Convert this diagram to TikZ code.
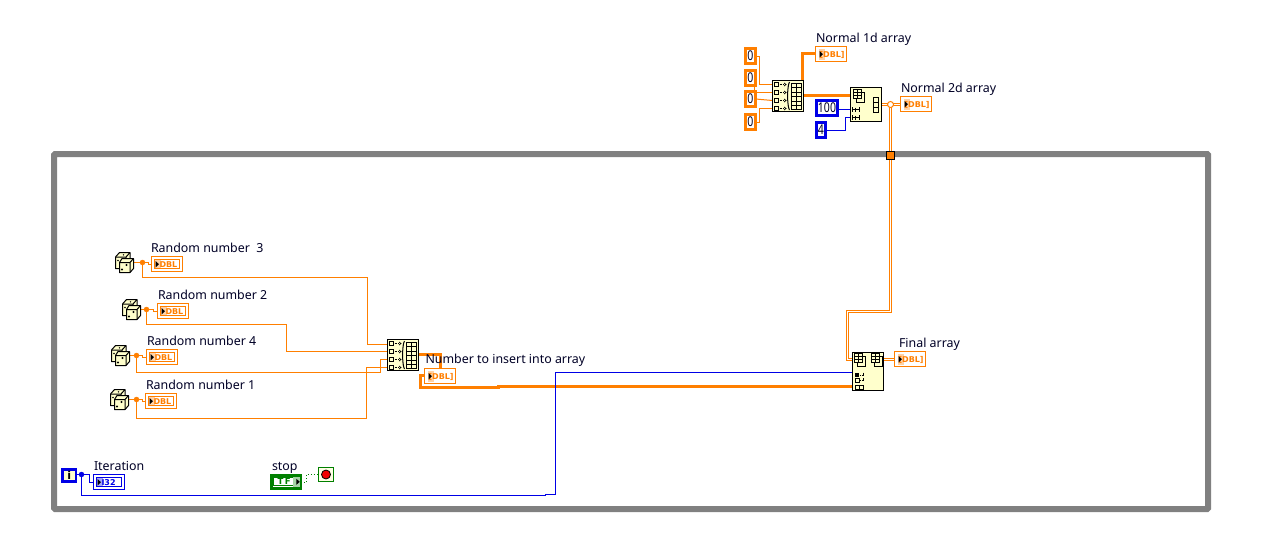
\documentclass[tikz,border=0pt]{standalone}
\usepackage{fontspec}
\usepackage{graphicx}
\setmainfont{Noto Sans}
\newfontfamily\indfont{DejaVu Sans}
\usetikzlibrary{backgrounds}
\pgfdeclarelayer{wires}
\pgfsetlayers{background,wires,main}
\definecolor{lvor}{HTML}{FF7F00}
\definecolor{lvbl}{HTML}{0000E6}
\definecolor{lvgr}{HTML}{008000}
\definecolor{lvcream}{HTML}{FFFFCC}
\definecolor{lvgray}{HTML}{808080}
\newcommand{\nar}[1]{\scalebox{0.78}[1]{#1}}
\tikzset{
  every node/.style={outer sep=0pt},
  wire/.style={draw=lvor,line width=1pt},
  thickwire/.style={draw=lvor,line width=3pt},
  dblwire/.style={draw=lvor,line width=3pt,postaction={draw=white,line width=1pt}},
  bluewire/.style={draw=lvbl,line width=1pt},
  dotwire/.style={draw=lvgr,line width=1pt,dotted},
  junc/.style={circle,fill=lvor,inner sep=0pt,minimum size=5.5pt},
  bjunc/.style={circle,fill=lvbl,inner sep=0pt,minimum size=5.5pt},
  ojunc/.style={circle,draw=lvor,fill=white,line width=1pt,inner sep=0pt,minimum size=6pt},
  lab/.style={anchor=base west,inner sep=0pt,font=\fontsize{12.4}{14}\selectfont,text=black!85!blue},
  block/.style={draw=black,fill=lvcream,line width=1pt,inner sep=0pt,anchor=north west},
  const/.style={fill=white,line width=2.5pt,inner sep=0pt,anchor=north west,font=\fontsize{13.5}{14}\selectfont,text=black!85!blue},
  ind/.style={draw,line width=1pt,fill=white,inner sep=0pt,anchor=north west},
}
\newcommand{\cells}[5]{%
  \foreach \i in {1,...,#5}{\draw[black,line width=1pt] (#1,{#2+(\i-1)*#4}) rectangle ++(#3,#4);}}
\newcommand{\buildarr}[1]{%
  \begin{scope}[shift={(#1.north west)},black,line width=1pt]
    \foreach \y in {4,12,20,28}{
      \draw (2,\y-2) rectangle ++(4,4);
      \draw[densely dotted,line width=.7pt] (7,\y) -- (13,\y);
      \draw[line width=.7pt] (11.5,\y-1.5) -- (13.5,\y) -- (11.5,\y+1.5);
    }
    \draw (17,1.5) .. controls (14.5,5) and (14.5,26) .. (17,29.5);
    \draw (19,2.5) rectangle (29,29);
    \draw (24,2.5) -- (24,29);
    \foreach \y in {7,11.5,16,20.5,25}{\draw (19,\y) -- (29,\y);}
  \end{scope}}
\newcommand{\arricon}[2]{%
  \begin{scope}[shift={(#1,#2)},black,line width=1pt]
    \draw[fill=lvcream] (3,3) rectangle (11,13);
    \draw[fill=lvcream] (0,0) rectangle (8,9);
    \draw (4,0) -- (4,9) (0,3) -- (8,3) (0,6) -- (8,6);
  \end{scope}}
\newcommand{\arrind}[1]{%
  \begin{scope}[shift={(#1.north west)}]
    \fill[lvor!35] (3,2.5) rectangle (9,13);
    \node[inner sep=0pt,text=lvor,anchor=base west] at (4,11.2) {\indfont\bfseries\fontsize{8}{9}\selectfont [DBL]};
    \fill[black] (4,4.5) -- (7.5,7.7) -- (4,11) -- cycle;
  \end{scope}}
\newcommand{\scalind}[3]{%
  \draw[#2,line width=1pt] ([shift={(3,3)}]#1.north west) rectangle ([shift={(-3,-3)}]#1.south east);
  \begin{scope}[shift={(#1.north west)}]
    \fill[#2!35] (3.5,3.5) rectangle (9,11.5);
    \node[inner sep=0pt,text=#2,anchor=base west] at (8,11) {\indfont\bfseries\fontsize{8}{9}\selectfont #3};
    \fill[black] (4,4.5) -- (7.5,7.7) -- (4,11) -- cycle;
  \end{scope}}
\newcommand{\dicebody}[1]{%
  \begin{scope}[shift={(#1.north west)},draw=black,line width=1pt,line join=round,fill=lvcream]
    \filldraw (0.5,5) -- (4.5,0.5) -- (15,0.5) -- (15,9) -- (11,16.5) -- (0.5,16.5) -- cycle;
    \draw (0.5,5) -- (11,5) -- (15,0.5) (11,5) -- (11,16.5);
    \fill[black] (3,8.5) circle (.9) (8.5,2.8) circle (.8);
    \filldraw (4.5,10.5) -- (7,6.5) -- (18.5,6.5) -- (18.5,16.5) -- (15,20.5) -- (4.5,20.5) -- cycle;
    \draw (4.5,10.5) -- (15,10.5) -- (18.5,6.5) (15,10.5) -- (15,20.5);
    \fill[black] (7,17.5) circle (1.2) (11.5,13) circle (1.2);
  \end{scope}}
\begin{document}
\begin{tikzpicture}[x=1pt,y=-1pt]
\useasboundingbox (0,0) rectangle (1267,536);
\begin{pgfonlayer}{background}
\fill[white] (0,0) rectangle (1267,536);
\end{pgfonlayer}
% loop frame
\node[draw=lvgray,line width=6pt,rounded corners=1pt,minimum width=1154pt,minimum height=355pt,inner sep=0pt,anchor=north west] (loop) at (54,154) {};
% constants
\node[const,draw=lvor,minimum width=10pt,minimum height=15pt] (c1) at (745.5,48.5) {\nar{0}};
\node[const,draw=lvor,minimum width=10pt,minimum height=15pt] (c2) at (745.5,70.5) {\nar{0}};
\node[const,draw=lvor,minimum width=10pt,minimum height=15pt] (c3) at (745.5,91.5) {\nar{0}};
\node[const,draw=lvor,minimum width=10pt,minimum height=15pt] (c4) at (745.5,114.5) {\nar{0}};
\node[const,draw=lvbl,minimum width=21pt,minimum height=15pt] (k100) at (816.5,100.5) {\nar{100}};
\node[const,draw=lvbl,minimum width=9pt,minimum height=15pt] (k4) at (816.5,122.5) {\nar{4}};
% top blocks
\node[block,minimum width=31pt,minimum height=31pt] (ba1) at (772.5,80.5) {};
\buildarr{ba1}
\node[block,minimum width=31pt,minimum height=34pt] (rs) at (850.5,87.5) {};
\arricon{853.5}{89.5}
\cells{873.5}{97.5}{5}{5}{3}
\draw[black,line width=1pt] (852,109.5) -- (860,109.5) (852.5,107) -- (852.5,112) (855,107.5) -- (855,111.5) (859.5,107) -- (859.5,112);
\draw[black,line width=1pt] (852,117.5) -- (860,117.5) (852.5,115) -- (852.5,120) (855,115.5) -- (855,119.5) (859.5,115) -- (859.5,120);
% indicators top
\node[ind,draw=lvor,minimum width=31pt,minimum height=15pt] (n1d) at (815.5,46.5) {};
\arrind{n1d}
\node[ind,draw=lvor,minimum width=31pt,minimum height=15pt] (n2d) at (900.5,96.5) {};
\arrind{n2d}
\node[lab] (tn1d) at (816,42) {Normal 1d array};
\node[lab] (tn2d) at (901,92) {Normal 2d array};
% lower left dice + indicators
\node[inner sep=0pt,minimum width=19pt,minimum height=21pt,anchor=north west] (d3) at (115,252) {};
\dicebody{d3}
\node[inner sep=0pt,minimum width=19pt,minimum height=21pt,anchor=north west] (d2) at (122,299) {};
\dicebody{d2}
\node[inner sep=0pt,minimum width=19pt,minimum height=21pt,anchor=north west] (d4) at (111,345) {};
\dicebody{d4}
\node[inner sep=0pt,minimum width=19pt,minimum height=21pt,anchor=north west] (d1) at (110,389) {};
\dicebody{d1}
\node[ind,draw=lvor,minimum width=31pt,minimum height=15pt] (i3) at (151.5,256.5) {};
\scalind{i3}{lvor}{DBL}
\node[ind,draw=lvor,minimum width=31pt,minimum height=15pt] (i2) at (157.5,303.5) {};
\scalind{i2}{lvor}{DBL}
\node[ind,draw=lvor,minimum width=31pt,minimum height=15pt] (i4) at (146.5,349.5) {};
\scalind{i4}{lvor}{DBL}
\node[ind,draw=lvor,minimum width=31pt,minimum height=15pt] (i1) at (145.5,393.5) {};
\scalind{i1}{lvor}{DBL}
\node[lab] (t3) at (151,252) {Random number\ \ 3};
\node[lab] (t2) at (158,299) {Random number 2};
\node[lab] (t4) at (147,345) {Random number 4};
\node[lab] (t1) at (146,389) {Random number 1};
% lower build array
\node[block,minimum width=31pt,minimum height=31pt] (ba2) at (387.5,339.5) {};
\buildarr{ba2}
\node[ind,draw=lvor,minimum width=31pt,minimum height=15pt] (inum) at (424.5,368.5) {};
\arrind{inum}
% final block
\node[block,minimum width=31pt,minimum height=38pt] (fin) at (852.5,352.5) {};
\arricon{854.5}{353.5}
\arricon{871.5}{353.5}
\fill[black] (855,373) rectangle (859,377);
\draw[black,line width=.7pt,densely dotted] (860,375) -- (864,375);
\draw[black,line width=.7pt] (863.5,372.5) -- (863.5,375);
\draw[black,line width=1pt] (855.5,378.5) rectangle (859.5,382.5);
\draw[black,line width=.7pt,densely dotted] (860,380.5) -- (864,380.5);
\draw[black,line width=.7pt] (863.5,378) -- (863.5,380.5);
\draw[black,line width=1pt] (855.5,385.5) rectangle (863.5,389.5) (859.5,385.5) -- (859.5,389.5);
\node[ind,draw=lvor,minimum width=31pt,minimum height=15pt] (ifin) at (894.5,351.5) {};
\arrind{ifin}
\node[lab] (tfin) at (899,347) {Final array};
\node[lab] (tnum) at (425.5,363) {Number to insert into array};
% iteration
\node[const,draw=lvbl,fill=lvcream,line width=2.5pt,minimum width=13.5pt,minimum height=12pt,font=\indfont\fontsize{11}{11}\selectfont\bfseries,text=black] (iter) at (62.5,469.3) {i};
\node[ind,draw=lvbl,minimum width=31pt,minimum height=15pt] (ii) at (93.5,474.5) {};
\scalind{ii}{lvbl}{I32}
\node[lab] (tit) at (94,470) {Iteration};
% stop
\node[ind,draw=lvgr,line width=2.6pt,minimum width=29.5pt,minimum height=13pt] (is) at (271.3,475.3) {};
\draw[lvgr,line width=1pt] ([shift={(2.5,2.5)}]is.north west) rectangle ([shift={(-2,-2.5)}]is.south east);
\fill[lvgr!35] ([shift={(-8,1.5)}]is.north east) rectangle ([shift={(-1,-1.5)}]is.south east);
\fill[black] ([shift={(-4.5,3.5)}]is.north east) -- ([shift={(-1,0)}]is.east) -- ([shift={(-4.5,-3.5)}]is.south east) -- cycle;
\node[inner sep=0pt,text=lvgr] at ([xshift=-2]is.center) {\indfont\bfseries\fontsize{8.5}{9}\selectfont T\,F};
\node[lab] (tst) at (272,470) {stop};
\node[draw=lvgr,line width=1pt,fill=lvcream!50,minimum width=15pt,minimum height=14pt,inner sep=0pt,anchor=north west] (cond) at (318.5,467.5) {};
\fill[red!95!black,draw=black,line width=.8pt] (cond.center) circle (4.5);
% pin coordinates
\coordinate (p1) at (772.5,84.5); \coordinate (p2) at (772.5,92.5); \coordinate (p3) at (772.5,100.5); \coordinate (p4) at (772.5,108.5);
\coordinate (b1) at (387.5,344.5); \coordinate (b2) at (387.5,351.5); \coordinate (b3) at (387.5,359.5); \coordinate (b4) at (387.5,367.5);
\coordinate (ba1o) at (803.5,95.5); \coordinate (rsin) at (850.5,95.5);
\coordinate (rsn) at (850.5,109.5); \coordinate (rsm) at (850.5,117.5);
\coordinate (ba1t) at (802.5,80.5); \coordinate (n1w) at (815.5,53.5);
\coordinate (rso) at (881.5,104.5); \coordinate (n2w) at (900.5,104.5);
\coordinate (fa) at (852.5,359.5); \coordinate (fo) at (883.5,359.5); \coordinate (fw) at (894.5,359.5);
\coordinate (fb) at (852.5,372.5); \coordinate (fc) at (852.5,386.5);
\coordinate (ba2o) at (418.5,354.5);
% junctions and tunnel
\node[junc] (j3) at (142.5,262.5) {};
\node[junc] (j2) at (146.5,309.5) {};
\node[junc] (j4) at (136.5,355.5) {};
\node[junc] (j1) at (136.5,399.5) {};
\node[bjunc] (ji) at (81.5,474.5) {};
\node[draw=black,fill=lvor,line width=1pt,minimum size=8.5pt,inner sep=0pt] (tun) at (890.5,155.5) {};
\begin{pgfonlayer}{wires}
\draw[wire] (c1.east) -- (759.5,56) -- (759.5,84.5) -- (p1);
\draw[wire] (754.5,70) -- (754.5,92.5) -- (p2);
\draw[wire] (c3.east) -- (p3);
\draw[wire] (c4.east) -- (759.5,122) -- (759.5,108.5) -- (p4);
\draw[thickwire] (ba1t) -- (802.5,53.5) -- (n1w);
\draw[thickwire] (ba1o) -- (rsin);
\draw[bluewire] (k100.east |- rsn) -- (rsn);
\draw[bluewire] (k4.east |- 0,130.5) -- (845.5,130.5) -- (845.5,117.5) -- (rsm);
\draw[dblwire] (rso) -- (n2w);
\draw[dblwire] (890.5,104.5) -- (890.5,311.5) -- (847.5,311.5) -- (847.5,359.5) -- (fa);
\draw[dblwire] (fo) -- (fw);
\draw[wire] (d3.east |- j3) -- (j3) -- (148.5,262.5) -- (148.5,264.5) -- (i3.west |- 0,264.5);
\draw[wire] (d2.east |- j2) -- (j2) -- (153.5,309.5) -- (153.5,311.5) -- (i2.west |- 0,311.5);
\draw[wire] (d4.east |- j4) -- (j4) -- (142.5,355.5) -- (142.5,357.5) -- (i4.west |- 0,357.5);
\draw[wire] (d1.east |- j1) -- (j1) -- (142.5,399.5) -- (142.5,401.5) -- (i1.west |- 0,401.5);
\draw[wire] (j3) -- (142.5,277.5) -- (367.5,277.5) -- (367.5,344.5) -- (b1);
\draw[wire] (j2) -- (146.5,324.5) -- (286.5,324.5) -- (286.5,351.5) -- (b2);
\draw[wire] (j4) -- (136.5,372.5) -- (380.5,372.5) -- (380.5,359.5) -- (b3);
\draw[wire] (j1) -- (136.5,418.5) -- (366.5,418.5) -- (366.5,367.5) -- (b4);
\draw[thickwire] (ba2o) -- (440.5,354.5) -- (440.5,375.5) -- (420.5,375.5) -- (420.5,387.5) -- (498.5,387.5) -- (498.5,386.5) -- (fc);
\draw[bluewire] (fb) -- (555.5,372.5) -- (555.5,494.5) -- (545.5,494.5) -- (545.5,495.5) -- (81.5,495.5) -- (ji);
\draw[bluewire] (iter.east |- ji) -- (ji) -- (89.5,474.5) -- (89.5,482.5) -- (ii.west |- 0,482.5);
\draw[dotwire] (is.east |- 0,482.5) -- (306.5,482.5) -- (306.5,474.5) -- (cond.west |- 0,474.5);
\end{pgfonlayer}
\node[ojunc] (jo) at (890.5,104.5) {};
\end{tikzpicture}
\end{document}
